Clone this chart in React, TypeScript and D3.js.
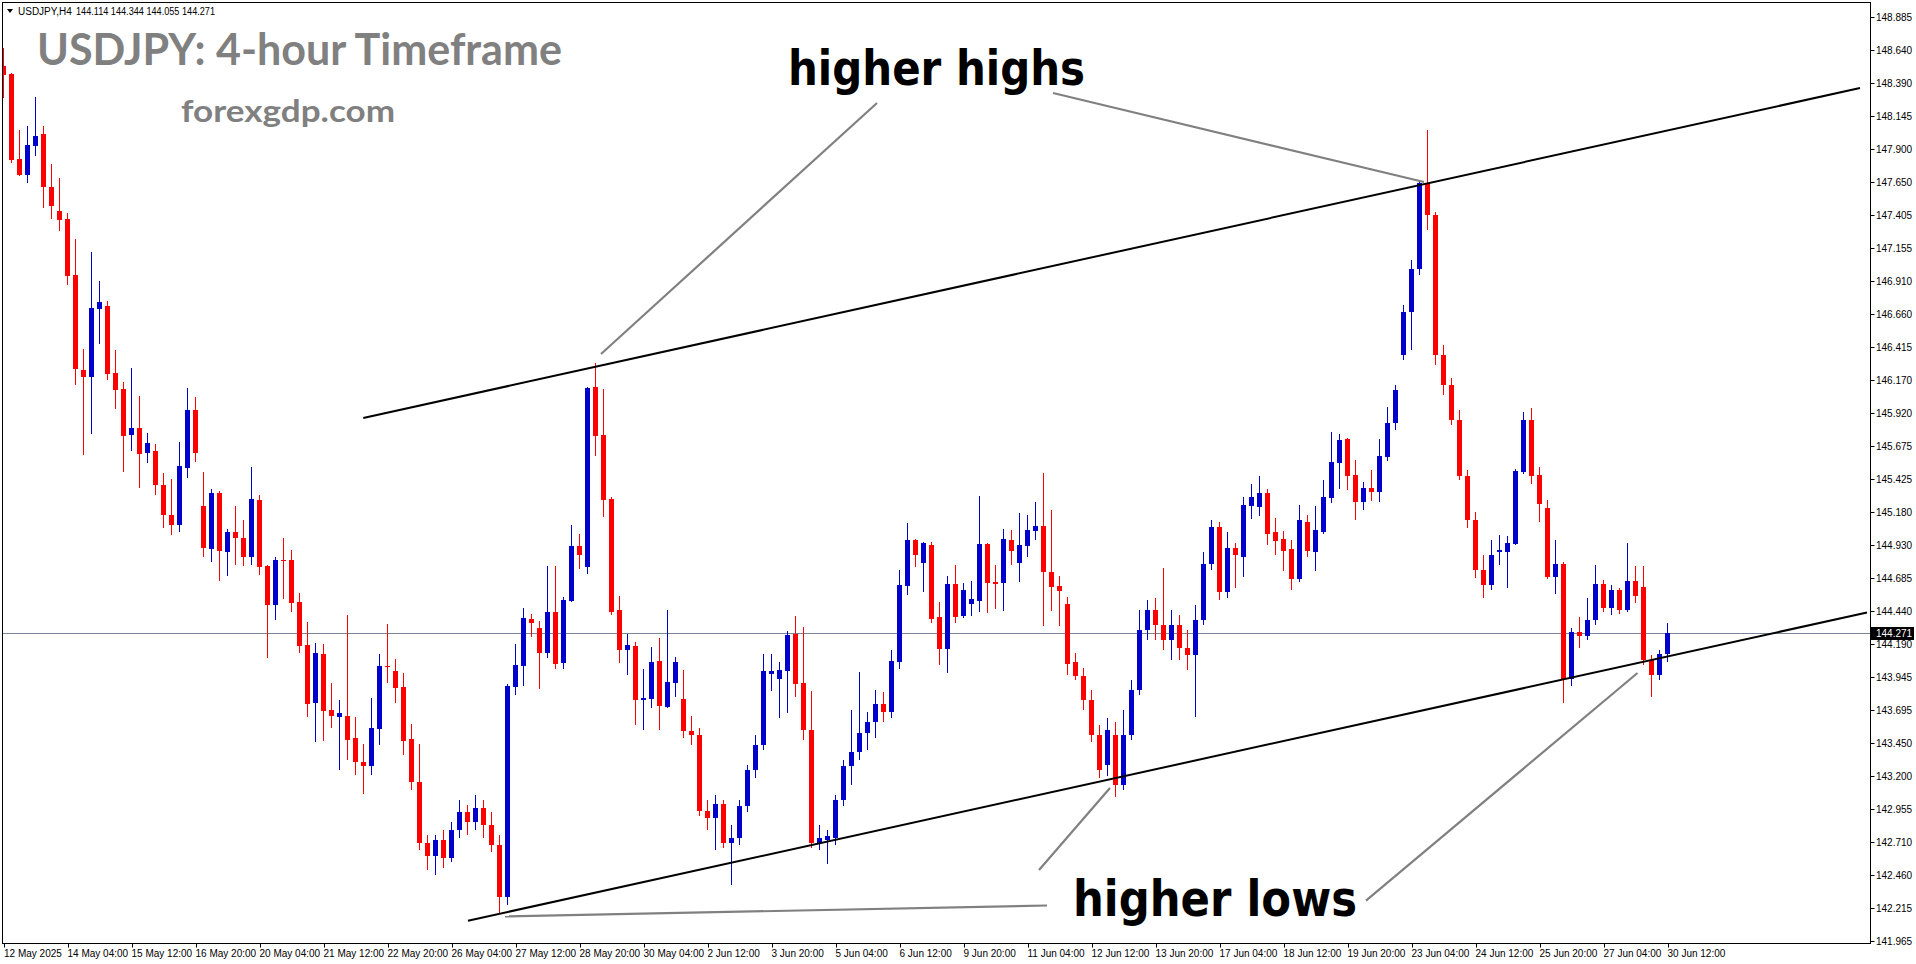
import React from 'react';
import * as d3 from 'd3';

const W = 1916;
const H = 964;

// USDJPY H4 bars (index 0 = leftmost visible bar)
const opens = [
148.518,148.458,147.822,147.702,147.919,148.009,147.612,147.432,147.372,146.953,
146.241,146.189,146.698,146.721,146.219,146.099,145.754,145.807,145.620,145.635,
145.380,145.155,145.081,145.507,145.942,145.223,144.901,145.320,144.878,145.028,
144.983,144.841,145.268,144.773,144.481,144.818,144.818,144.504,144.182,143.747,
144.114,143.695,143.642,143.650,143.485,143.305,143.275,143.553,144.024,143.987,
143.867,143.477,143.156,142.699,142.602,142.721,142.587,142.796,142.931,142.856,
142.961,142.834,142.684,142.294,143.867,144.024,144.376,144.309,144.122,144.429,
144.047,144.511,144.923,144.766,146.114,145.754,145.275,144.444,144.144,144.174,
143.770,143.777,144.062,143.717,143.897,143.777,143.537,143.507,142.938,142.886,
142.991,142.699,142.736,142.976,143.246,143.433,143.964,143.927,143.987,144.264,
143.897,143.545,142.699,142.721,142.736,143.021,143.275,143.380,143.523,143.605,
143.740,143.680,144.054,144.624,144.968,144.796,144.931,144.392,144.152,144.639,
144.399,144.489,144.511,144.938,144.654,144.646,144.968,144.796,144.923,145.036,
145.073,144.728,144.624,144.489,144.054,143.950,143.770,143.508,143.283,143.508,
143.133,143.508,143.845,144.294,144.444,144.332,144.219,144.332,144.159,144.107,
144.369,144.788,145.065,144.579,144.908,144.841,145.223,145.215,145.320,145.028,
144.976,144.901,144.676,145.103,144.878,145.028,145.283,145.545,145.725,145.455,
145.253,145.358,145.328,145.590,145.845,146.354,146.676,147.001,147.642,147.402,
146.354,146.129,145.867,145.447,145.118,144.743,144.631,144.878,144.878,144.938,
145.477,145.867,145.455,145.208,144.691,144.788,143.927,144.279,144.249,144.369,
144.639,144.459,144.594,144.444,144.661,144.616,144.069,143.957,144.114];

const highs = [
148.653,148.468,148.039,148.069,148.286,148.069,147.784,147.679,147.417,147.223,
146.399,147.125,146.908,146.758,146.391,146.151,146.256,146.047,145.770,145.687,
145.470,145.425,145.702,146.106,146.039,145.477,145.350,145.335,145.051,145.223,
145.118,145.515,145.305,144.781,144.841,144.983,144.893,144.571,144.354,144.197,
144.189,143.897,143.770,144.406,143.642,143.440,143.785,144.114,144.339,144.077,
143.972,143.590,143.440,142.759,142.759,142.796,142.856,143.021,142.984,143.059,
143.021,142.931,142.759,143.890,144.189,144.459,144.414,144.362,144.773,144.773,
144.541,145.081,145.013,146.114,146.294,146.099,145.290,144.549,144.264,144.204,
144.002,144.167,144.234,144.444,144.092,143.994,143.650,143.560,143.021,143.059,
143.021,142.834,143.021,143.283,143.508,144.114,144.114,144.054,144.287,144.399,
144.317,143.837,142.834,142.796,143.059,143.321,143.695,143.979,143.680,143.845,
143.830,144.144,144.743,145.095,144.976,144.953,144.953,144.504,144.699,144.781,
144.646,144.661,145.298,144.946,144.781,145.051,145.043,145.170,145.155,145.253,
145.470,145.193,144.699,144.541,144.122,144.009,143.845,143.583,143.635,143.605,
143.695,143.920,144.444,144.519,144.534,144.758,144.444,144.407,144.294,144.481,
144.878,145.118,145.103,145.028,144.946,145.290,145.388,145.448,145.350,145.133,
145.036,144.968,145.230,145.155,145.223,145.417,145.777,145.762,145.732,145.567,
145.403,145.492,145.725,145.964,146.129,146.729,147.066,147.667,148.039,147.425,
146.429,146.181,145.942,145.492,145.178,144.856,144.968,145.006,144.998,145.500,
145.927,145.957,145.515,145.268,144.968,144.803,144.309,144.392,144.534,144.781,
144.669,144.631,144.609,144.946,144.773,144.773,144.107,144.144,144.344];

const lows = [
148.278,147.794,147.694,147.641,147.844,147.454,147.372,147.282,146.878,146.129,
145.605,145.762,146.436,146.166,145.949,145.477,145.635,145.357,145.545,145.305,
145.058,145.006,145.028,145.432,145.552,144.841,144.803,144.661,144.698,144.781,
144.773,144.781,144.706,144.084,144.369,144.526,144.429,144.122,143.642,143.455,
143.462,143.560,143.246,143.321,143.208,143.066,143.208,143.433,143.897,143.747,
143.358,143.096,142.646,142.497,142.459,142.512,142.557,142.736,142.759,142.796,
142.736,142.632,142.167,142.234,143.807,143.875,144.242,143.852,144.084,144.002,
144.002,144.504,144.751,144.713,145.597,145.140,144.406,144.047,143.957,143.582,
143.545,143.710,143.545,143.710,143.792,143.485,143.433,142.901,142.796,142.646,
142.661,142.384,142.684,142.931,143.186,143.395,143.837,143.635,143.672,143.792,
143.470,142.661,142.646,142.542,142.684,142.976,143.133,143.321,143.395,143.485,
143.605,143.635,144.002,144.556,144.766,144.579,144.347,144.032,143.972,144.347,
144.384,144.399,144.429,144.421,144.451,144.436,144.781,144.654,144.841,144.968,
144.324,144.436,144.324,143.957,143.920,143.695,143.455,143.186,143.201,143.044,
143.096,143.470,143.807,144.219,144.219,144.144,144.069,144.069,143.994,143.642,
144.332,144.743,144.519,144.534,144.609,144.691,145.125,145.148,144.931,144.856,
144.736,144.594,144.654,144.841,144.736,145.013,145.245,145.350,145.343,145.118,
145.193,145.260,145.253,145.560,145.792,146.316,146.391,146.953,147.290,146.279,
146.054,145.830,145.417,145.058,144.683,144.534,144.594,144.781,144.609,144.931,
145.462,145.387,145.103,144.676,144.564,143.747,143.875,144.159,144.219,144.332,
144.429,144.406,144.414,144.429,144.496,144.032,143.792,143.920,144.055];

const closes = [
148.450,147.814,147.702,147.926,147.994,147.612,147.469,147.365,146.945,146.249,
146.189,146.706,146.751,146.211,146.091,145.747,145.807,145.612,145.695,145.380,
145.155,145.081,145.522,145.942,145.620,144.908,145.320,144.886,145.028,144.983,
144.841,145.275,144.766,144.481,144.818,144.811,144.496,144.174,143.740,144.122,
143.687,143.650,143.672,143.470,143.305,143.275,143.560,144.024,144.017,143.860,
143.462,143.156,142.699,142.602,142.721,142.587,142.796,142.931,142.856,142.961,
142.834,142.684,142.294,143.875,144.032,144.384,144.346,144.122,144.429,144.039,
144.519,144.923,144.856,146.106,145.747,145.268,144.429,144.144,144.182,143.770,
143.785,144.054,143.725,143.905,144.054,143.537,143.507,142.938,142.886,142.991,
142.699,142.736,142.976,143.246,143.433,143.987,143.987,143.994,144.257,143.890,
143.545,142.699,142.736,142.751,143.021,143.275,143.380,143.523,143.605,143.740,
143.680,144.062,144.631,144.968,144.856,144.946,144.377,144.152,144.639,144.392,
144.594,144.526,144.938,144.646,144.639,144.976,144.886,144.931,145.043,145.073,
144.728,144.616,144.586,144.039,143.950,143.770,143.508,143.246,143.545,143.133,
143.508,143.845,144.294,144.444,144.332,144.219,144.332,144.159,144.107,144.369,
144.788,145.065,144.579,144.908,144.856,145.230,145.290,145.320,145.013,144.961,
144.886,144.676,145.118,144.886,145.043,145.290,145.552,145.717,145.447,145.253,
145.358,145.328,145.597,145.845,146.091,146.676,147.001,147.642,147.402,146.354,
146.129,145.867,145.447,145.118,144.743,144.631,144.856,144.893,144.946,145.485,
145.867,145.447,145.238,144.691,144.788,143.927,144.279,144.249,144.369,144.639,
144.459,144.594,144.444,144.661,144.549,144.069,143.957,144.114,144.271];

const dateLabels = [
'12 May 2025','14 May 04:00','15 May 12:00','16 May 20:00','20 May 04:00','21 May 12:00',
'22 May 20:00','26 May 04:00','27 May 12:00','28 May 20:00','30 May 04:00','2 Jun 12:00',
'3 Jun 20:00','5 Jun 04:00','6 Jun 12:00','9 Jun 20:00','11 Jun 04:00','12 Jun 12:00',
'13 Jun 20:00','17 Jun 04:00','18 Jun 12:00','19 Jun 20:00','23 Jun 04:00','24 Jun 12:00',
'25 Jun 20:00','27 Jun 04:00','30 Jun 12:00'];
const dateLabelBars = [0,8,16,24,32,40,48,56,64,72,80,88,96,104,112,120,128,136,144,152,160,168,176,184,192,200,208];

const priceTicks = [
148.885,148.640,148.390,148.145,147.900,147.650,147.405,147.155,146.910,146.660,
146.415,146.170,145.920,145.675,145.425,145.180,144.930,144.685,144.440,144.190,
143.945,143.695,143.450,143.200,142.955,142.710,142.460,142.215,141.965];

const bidPrice = 144.271;
const headerSymbol = 'USDJPY,H4';
const headerValues = '144.114 144.344 144.055 144.271';

// trend lines: [bar index, price]
const upperTrend: [number, number][] = [[44.97, 145.882], [232.06, 148.353]];
const lowerTrend: [number, number][] = [[58.06, 142.117], [232.94, 144.425]];
const pointerLines: [number, number][][] = [
  [[109.19, 148.241], [74.69, 146.361]],
  [[131.19, 148.316], [177.56, 147.649]],
  [[130.44, 142.231], [62.69, 142.149]],
  [[129.44, 142.497], [138.31, 143.111]],
  [[170.31, 142.268], [204.25, 143.972]],
];

const PLOT = { left: 2.5, top: 2.5, right: 1870.5, bottom: 943.5 };

export default function App() {
  const x = d3.scaleLinear().domain([0, 1]).range([3.5, 11.5]);
  const y = d3.scaleLinear().domain([141.965, 148.885]).range([941, 17]);
  const line = d3.line<[number, number]>().x(d => x(d[0])).y(d => y(d[1]));

  const candles = closes.map((c, i) => {
    const o = opens[i];
    const bull = c >= o;
    const col = bull ? '#0000CD' : '#FF0000';
    const top = Math.round(y(Math.max(o, c)));
    const bot = Math.round(y(Math.min(o, c)));
    const cx = x(i);
    return (
      <g key={i}>
        <line x1={cx} x2={cx} y1={Math.round(y(highs[i]))} y2={Math.round(y(lows[i]))} stroke={col} strokeWidth={1} />
        <rect x={cx - 2.5} y={top} width={5} height={Math.max(1, bot - top)} fill={col} />
      </g>
    );
  });

  const yb = Math.round(y(bidPrice)) + 0.5;

  return (
    <svg width={W} height={H} style={{ position: 'absolute', left: 0, top: 0, background: '#fff' }}
      fontFamily="'Liberation Sans', Arial, sans-serif">
      <defs>
        <clipPath id="plot">
          <rect x={3} y={3} width={PLOT.right - 3} height={PLOT.bottom - 3} />
        </clipPath>
      </defs>
      <rect x={0} y={0} width={W} height={H} fill="#fff" />
      {/* bid line */}
      <line x1={PLOT.left} x2={PLOT.right} y1={yb} y2={yb} stroke="#778899" strokeWidth={1} />
      <g clipPath="url(#plot)">
        {candles}
        <path d={line(upperTrend) || ''} stroke="#000" strokeWidth={2} fill="none" />
        <path d={line(lowerTrend) || ''} stroke="#000" strokeWidth={2} fill="none" />
        {pointerLines.map((pl, k) => (
          <path key={k} d={line(pl) || ''} stroke="#808080" strokeWidth={2.2} fill="none" />
        ))}
      </g>
      {/* frame */}
      <rect x={PLOT.left} y={PLOT.top} width={PLOT.right - PLOT.left} height={PLOT.bottom - PLOT.top}
        fill="none" stroke="#000" strokeWidth={1} />
      {/* price axis */}
      {priceTicks.map((p, k) => {
        const yy = Math.round(y(p)) + 0.5;
        return (
          <g key={k}>
            <line x1={PLOT.right} x2={PLOT.right + 4} y1={yy} y2={yy} stroke="#000" />
            <text x={1876} y={yy + 3.5} fontSize={10} fill="#000">{p.toFixed(3)}</text>
          </g>
        );
      })}
      <rect x={1871} y={yb - 6.5} width={43} height={13} fill="#000" />
      <text x={1876} y={yb + 3.5} fontSize={10} fill="#fff">{bidPrice.toFixed(3)}</text>
      {/* time axis */}
      {dateLabels.map((t, k) => {
        const xx = Math.round(x(dateLabelBars[k])) + 0.5;
        return (
          <g key={k}>
            <line x1={xx} x2={xx} y1={PLOT.bottom} y2={PLOT.bottom + 4} stroke="#000" />
            <text x={k === 0 ? 4 : xx - 1} y={957} fontSize={10} fill="#000">{t}</text>
          </g>
        );
      })}
      {/* header */}
      <polygon points="7,9 13,9 10,13" fill="#000" />
      <text x={18} y={14.5} fontSize={10} fill="#000">{headerSymbol}</text>
      <text x={76} y={14.5} fontSize={10} fill="#000" textLength={139} lengthAdjust="spacingAndGlyphs">{headerValues}</text>
      {/* titles */}
      <text x={37} y={65} fontFamily="Lato, 'Open Sans', sans-serif" fontWeight="bold" fontSize={44} fill="#808080"
        textLength={525} lengthAdjust="spacingAndGlyphs">USDJPY: 4-hour Timeframe</text>
      <text x={181} y={122} fontFamily="Lato, 'Open Sans', sans-serif" fontWeight="bold" fontSize={31} fill="#808080"
        textLength={214} lengthAdjust="spacingAndGlyphs">forexgdp.com</text>
      <text x={788} y={85} fontFamily="'DejaVu Sans', sans-serif" fontWeight="bold" fontSize={48} fill="#000"
        textLength={297} lengthAdjust="spacingAndGlyphs">higher highs</text>
      <text x={1073} y={916} fontFamily="'DejaVu Sans', sans-serif" fontWeight="bold" fontSize={50} fill="#000"
        textLength={284} lengthAdjust="spacingAndGlyphs">higher lows</text>
    </svg>
  );
}
